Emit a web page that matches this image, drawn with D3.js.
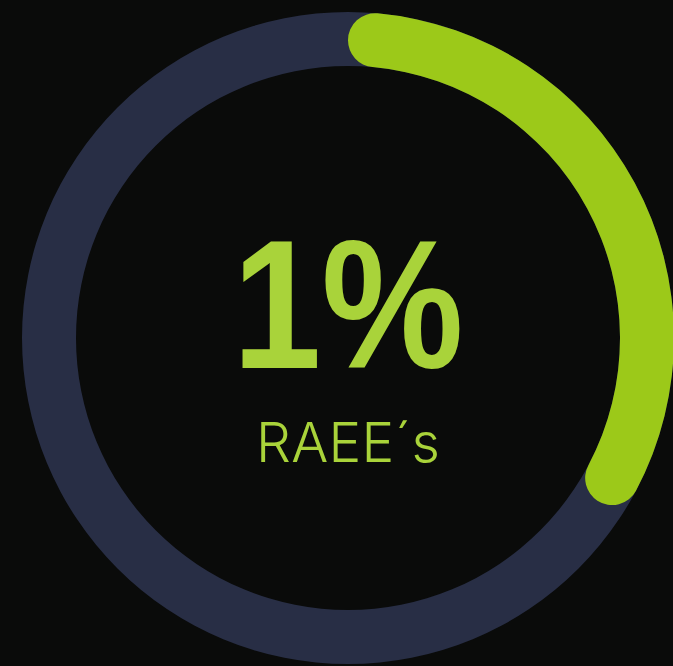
<!DOCTYPE html>
<html>
<head>
<meta charset="utf-8">
<script src="https://cdn.jsdelivr.net/npm/d3@7"></script>
<style>
  html, body { margin: 0; padding: 0; background: #0a0b0a; overflow: hidden; }
</style>
</head>
<body>
<script>
// chart data
const progress = [0.342];        // share of the ring filled in green
const valueLabel = ["1%"];
const categoryLabel = ["RAEE´s"];

const width = 673, height = 666;
const cx = 348, cy = 338;
const outerR = 326, innerR = 272;

const svg = d3.select("body").append("svg")
    .attr("width", width).attr("height", height);

svg.append("rect").attr("width", width).attr("height", height).attr("fill", "#0a0b0a");

const g = svg.append("g").attr("transform", "translate(" + cx + "," + cy + ")");

const angle = d3.scaleLinear().domain([0, 1]).range([0, 2 * Math.PI]);

// background track
const track = d3.arc().innerRadius(innerR).outerRadius(outerR)
    .startAngle(0).endAngle(2 * Math.PI);
g.append("path").attr("d", track()).attr("fill", "#282e45");

// progress arc with rounded ends
const arc = d3.arc().innerRadius(innerR).outerRadius(outerR)
    .cornerRadius((outerR - innerR) / 2)
    .startAngle(0);
g.selectAll(".progress").data(progress).enter()
    .append("path").attr("class", "progress")
    .attr("d", d => arc({ endAngle: angle(d) }))
    .attr("fill", "#9cc919");

// labels
g.append("text").data(valueLabel)
    .attr("x", 0).attr("y", 30)
    .attr("text-anchor", "middle")
    .style("font-family", "'Liberation Sans', Arial, sans-serif")
    .style("font-weight", "bold")
    .style("font-size", "184px")
    .attr("textLength", 231)
    .attr("lengthAdjust", "spacingAndGlyphs")
    .attr("fill", "#a9d33a")
    .text(d => d);

g.append("text").data(categoryLabel)
    .attr("x", 0).attr("y", 124)
    .attr("text-anchor", "middle")
    .style("font-family", "Inter, 'Noto Sans', sans-serif")
    .style("font-weight", 300)
    .style("font-size", "55px")
    .attr("textLength", 184)
    .attr("lengthAdjust", "spacing")
    .attr("fill", "#a9d33a")
    .text(d => d);
</script>
</body>
</html>
